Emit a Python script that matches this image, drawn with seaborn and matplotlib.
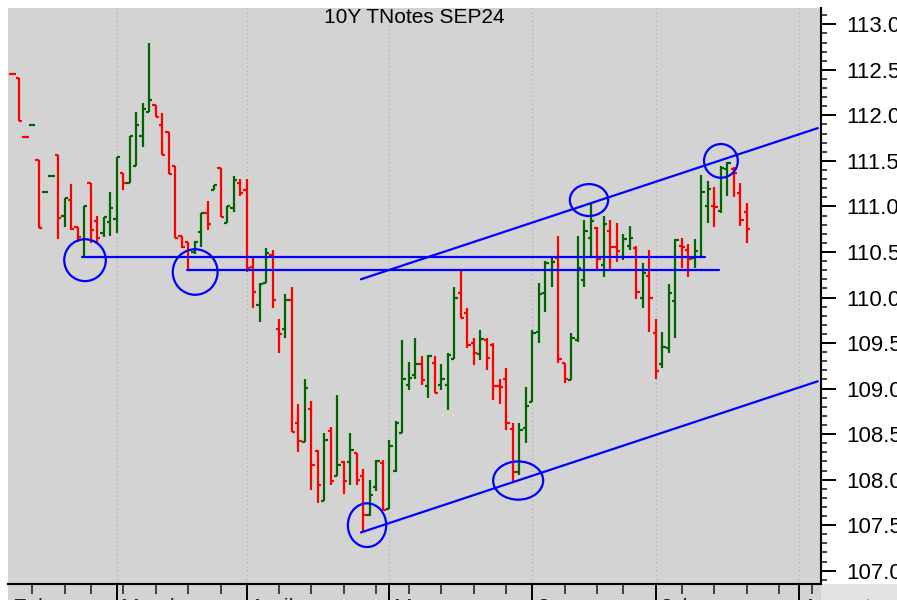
import matplotlib
matplotlib.use('Agg')
import matplotlib.pyplot as plt
import matplotlib.transforms as mtransforms
from matplotlib.patches import Ellipse, Rectangle
from matplotlib.ticker import MultipleLocator, FormatStrFormatter
import numpy as np
import pandas as pd
import seaborn as sns

sns.set_theme(style='white')
plt.rcParams['font.family'] = ['Liberation Sans', 'DejaVu Sans']

# ---------------------------------------------------------------------------
# Data: daily OHLC of the 10Y T-Note Sep 2024 contract
# ---------------------------------------------------------------------------
title = '10Y TNotes SEP24'
first_bar = '2024-02-07'
holidays = ['2024-02-19', '2024-03-29', '2024-05-27', '2024-06-19', '2024-07-04']

opens = [112.45, 112.41, 111.76, 111.89, 111.51, 111.16, 111.33, 111.57, 110.90, 111.07,
         110.77, 110.44, 111.26, 110.84, 110.71, 110.83, 110.86, 111.37, 111.26, 111.44,
         111.77, 112.04, 112.11, 111.89, 111.82, 111.44, 110.68, 110.61, 110.50, 110.72,
         110.93, 111.18, 111.42, 110.82, 110.98, 111.26, 111.18, 110.33, 109.92, 110.16,
         110.47, 109.65, 109.65, 109.97, 108.62, 108.41, 108.78, 108.31, 107.76, 108.53,
         108.04, 108.19, 108.19, 108.29, 108.04, 107.61, 107.92, 108.18, 107.68, 108.10,
         108.51, 109.04, 109.15, 109.27, 109.03, 109.28, 109.04, 109.04, 109.33, 110.05,
         109.83, 109.50, 109.38, 109.53, 109.48, 109.03, 109.11, 108.56, 108.08, 108.57,
         108.85, 109.62, 110.05, 110.30, 110.43, 109.28, 109.09, 109.53, 110.19, 110.65,
         110.76, 110.36, 110.73, 110.55, 110.45, 110.57, 110.54, 110.00, 110.24, 109.61,
         109.27, 109.45, 109.96, 110.57, 110.52, 110.43, 110.44, 111.01, 111.01, 110.95,
         111.41, 111.41, 111.15, 110.94]
highs = [112.45, 112.41, 111.76, 111.89, 111.51, 111.16, 111.33, 111.57, 111.09, 111.25,
         110.77, 111.00, 111.26, 110.89, 110.88, 111.16, 111.54, 111.37, 111.77, 112.04,
         112.14, 112.79, 112.11, 112.03, 111.82, 111.44, 110.68, 110.61, 110.62, 110.93,
         111.06, 111.23, 111.42, 111.00, 111.33, 111.30, 111.30, 110.43, 110.16, 110.54,
         110.52, 109.76, 110.04, 110.11, 108.83, 109.11, 108.86, 108.32, 108.51, 108.58,
         108.93, 108.21, 108.51, 108.29, 108.12, 108.00, 108.22, 108.22, 108.43, 108.64,
         109.53, 109.29, 109.55, 109.36, 109.37, 109.36, 109.27, 109.39, 110.11, 110.30,
         109.88, 109.55, 109.64, 109.56, 109.50, 109.11, 109.23, 108.62, 108.62, 109.02,
         109.64, 110.16, 110.40, 110.44, 110.67, 109.28, 109.61, 110.68, 110.85, 111.04,
         110.77, 110.90, 110.85, 110.82, 110.70, 110.79, 110.57, 110.38, 110.52, 109.76,
         109.62, 110.15, 110.64, 110.65, 110.59, 110.64, 111.34, 111.28, 111.21, 111.44,
         111.49, 111.43, 111.26, 111.04]
lows = [112.45, 111.94, 111.76, 111.89, 110.76, 111.16, 111.33, 110.64, 110.77, 110.74,
        110.61, 110.44, 110.60, 110.60, 110.66, 110.68, 110.71, 111.18, 111.26, 111.44,
        111.65, 112.04, 111.98, 111.56, 111.36, 110.65, 110.54, 110.30, 110.48, 110.55,
        110.74, 111.18, 110.88, 110.82, 110.94, 111.12, 110.28, 109.89, 109.73, 110.16,
        109.89, 109.39, 109.55, 108.52, 108.30, 108.41, 107.89, 107.74, 107.76, 107.94,
        108.04, 107.84, 107.94, 107.94, 107.44, 107.60, 107.88, 107.66, 107.68, 108.08,
        108.51, 108.98, 109.11, 109.04, 108.90, 108.95, 108.98, 108.77, 109.32, 109.78,
        109.45, 109.26, 109.31, 109.20, 108.87, 108.83, 108.54, 107.99, 108.05, 108.40,
        108.85, 109.50, 109.84, 110.11, 109.28, 109.06, 109.09, 109.51, 110.11, 110.46,
        110.31, 110.23, 110.30, 110.39, 110.41, 110.52, 109.98, 109.88, 109.62, 109.10,
        109.23, 109.39, 109.56, 110.32, 110.22, 110.32, 110.44, 110.82, 110.77, 110.93,
        111.12, 111.10, 110.79, 110.60]
closes = [112.45, 111.94, 111.76, 111.89, 110.76, 111.16, 111.33, 110.87, 111.09, 110.75,
          110.66, 111.00, 110.74, 110.65, 110.88, 110.98, 111.54, 111.26, 111.77, 111.89,
          112.07, 112.17, 111.98, 111.56, 111.36, 110.65, 110.55, 110.30, 110.61, 110.93,
          110.81, 111.23, 110.88, 111.00, 111.29, 111.15, 110.32, 110.06, 110.15, 110.49,
          109.97, 109.60, 109.97, 108.52, 108.42, 109.01, 108.16, 107.94, 108.43, 107.99,
          108.16, 107.98, 108.33, 108.00, 107.61, 107.83, 108.21, 107.67, 108.37, 108.62,
          109.11, 109.12, 109.27, 109.09, 109.36, 108.95, 109.11, 109.37, 110.00, 109.78,
          109.48, 109.39, 109.54, 109.34, 109.03, 109.02, 108.62, 108.08, 108.54, 108.81,
          109.61, 110.04, 110.38, 110.39, 109.32, 109.11, 109.55, 110.32, 110.73, 110.84,
          110.42, 110.81, 110.55, 110.51, 110.64, 110.65, 110.06, 110.27, 109.99, 109.19,
          109.46, 110.05, 110.63, 110.55, 110.42, 110.51, 111.16, 111.19, 110.99, 111.42,
          111.48, 111.37, 110.85, 110.75]

# trend lines: start/end in bars from the first bar, start/end price
line_x0 = [10.9, 26.8, 53.6, 53.6]
line_x1 = [106.5, 108.7, 123.9, 123.9]
line_p0 = [110.44, 110.30, 110.20, 107.42]
line_p1 = [110.44, 110.30, 111.86, 109.08]

# circled highs / lows: centre (bars from first bar, price), size (bars, price)
circle_x = [11.15, 28.1, 54.55, 77.8, 88.7, 109.0]
circle_p = [110.41, 110.28, 107.50, 107.99, 111.07, 111.50]
circle_w = [6.4, 6.9, 5.9, 7.7, 5.9, 5.2]
circle_h = [0.46, 0.50, 0.48, 0.42, 0.35, 0.37]

# ---------------------------------------------------------------------------
# Trading calendar -> integer x positions
# ---------------------------------------------------------------------------
calendar = pd.bdate_range('2024-02-01', '2024-08-09')
calendar = calendar[~calendar.isin(pd.to_datetime(holidays))]
start = calendar.get_loc(pd.Timestamp(first_bar))
x = start + np.arange(len(opens))

o, h, l, c = map(np.array, (opens, highs, lows, closes))
prev = np.concatenate([[o[0]], c[:-1]])
colors = np.where(c > prev, '#006400', '#ff0000')

xmin, xmax = start - 0.7, start + 124.4
ymin, ymax = 106.854, 113.179

pos = pd.Series(np.arange(len(calendar)), index=calendar)
month_all = pos.groupby(calendar.to_period('M')).first().values
week_all = pos.groupby(calendar.to_period('W')).first().values
month_pos = month_all[(month_all > xmin) & (month_all < xmax)]
week_pos = np.setdiff1d(week_all, month_all)
week_pos = week_pos[(week_pos > xmin) & (week_pos < xmax)]
month_names = [calendar[p].strftime('%B') for p in month_all]

# ---------------------------------------------------------------------------
# Plot
# ---------------------------------------------------------------------------
fig = plt.figure(figsize=(8.97, 6.0), dpi=100)
fig.add_artist(Rectangle((8 / 897, 0), 813 / 897, 16 / 600, transform=fig.transFigure,
                         facecolor='#d3d3d3', edgecolor='none', zorder=-1))
fig.add_artist(Rectangle((821 / 897, 0), 76 / 897, 16 / 600, transform=fig.transFigure,
                         facecolor='#e2e2e2', edgecolor='none', zorder=-1))
ax = fig.add_axes([8 / 897, 16 / 600, 813 / 897, 576 / 600])
ax.set_facecolor('#d3d3d3')

for p in month_pos:
    ax.axvline(p, color='#b5b5b5', lw=1, linestyle=(0, (1, 2)), zorder=0)

# OHLC bars
ax.vlines(x, l, h, colors=colors, lw=1.6, zorder=2)
ax.hlines(o, x - 0.48, x, colors=colors, lw=1.6, zorder=2)
ax.hlines(c, x, x + 0.48, colors=colors, lw=1.6, zorder=2)

# trend lines
for x0, x1, p0, p1 in zip(line_x0, line_x1, line_p0, line_p1):
    sns.lineplot(x=[start + x0, start + x1], y=[p0, p1], color='#0000ff', lw=1.6,
                 ax=ax, legend=False, zorder=3)

for cx, cp, w, hh in zip(circle_x, circle_p, circle_w, circle_h):
    ax.add_patch(Ellipse((start + cx, cp), w, hh, fill=False, edgecolor='#0000ff',
                         lw=1.6, zorder=3))

ax.set_xlabel('')
ax.set_ylabel('')

ax.text(0.5, 1.0, title, transform=ax.transAxes, ha='center', va='top',
        fontsize=15, color='black')

# axes, ticks
for side in ['left', 'top']:
    ax.spines[side].set_visible(False)
for side in ['bottom', 'right']:
    ax.spines[side].set_color('black')
    ax.spines[side].set_linewidth(1.5)

ax.yaxis.tick_right()
ax.yaxis.set_major_locator(MultipleLocator(0.5))
ax.yaxis.set_minor_locator(MultipleLocator(0.1))
ax.yaxis.set_major_formatter(FormatStrFormatter('%.1f'))
ax.tick_params(axis='y', which='major', direction='out', length=11, width=1.4,
               pad=7, labelsize=16, colors='black', right=True, left=False)
ax.tick_params(axis='y', which='minor', direction='out', length=4, width=1.2,
               right=True, left=False)

ax.set_xticks(month_pos)
ax.set_xticks(week_pos, minor=True)
ax.set_xticklabels([])
ax.tick_params(axis='x', which='major', direction='out', length=12, width=1.4,
               bottom=True, colors='black')
ax.tick_params(axis='x', which='minor', direction='out', length=7, width=1.2,
               bottom=True)

# limits last: set_xticks may widen the view
ax.set_xlim(xmin, xmax)
ax.set_ylim(ymin, ymax)

# month names sit mostly below the bottom edge, as in the original
trans = mtransforms.blended_transform_factory(ax.transData, ax.transAxes)
for p, name in zip(month_all, month_names):
    xx = max(p, xmin) + 0.6
    if xx < xmax:
        ax.text(xx, -14 / 576, name, transform=trans, ha='left', va='top',
                fontsize=16, clip_on=False)

fig.savefig('out.png', dpi=100)
